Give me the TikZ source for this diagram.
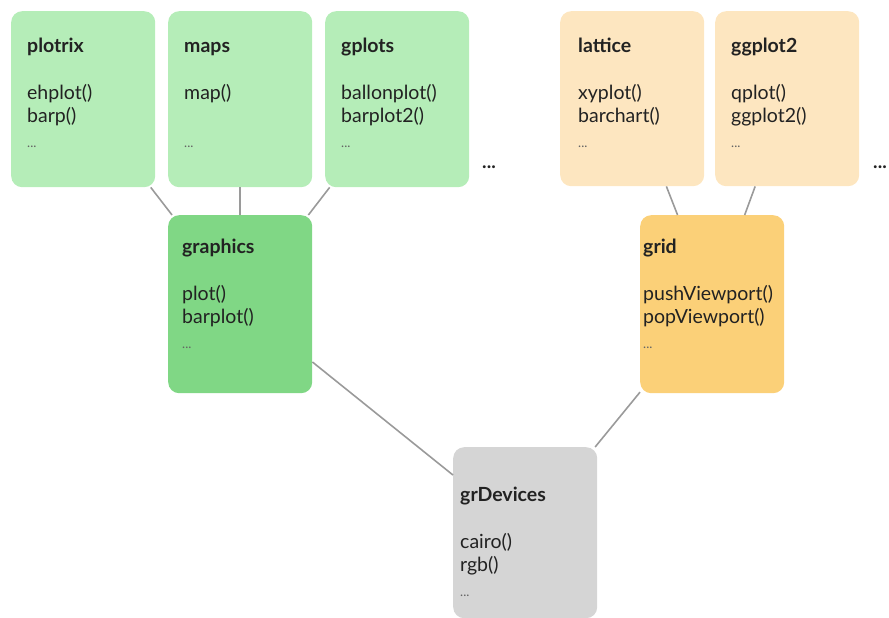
\documentclass[tikz,border=0pt]{standalone}
\usepackage{fontspec}
\setmainfont{Lato}
\usetikzlibrary{positioning,calc}
\definecolor{leaf}{HTML}{B5EDB8}
\definecolor{leafdark}{HTML}{80D785}
\definecolor{sand}{HTML}{FDE6C0}
\definecolor{sanddark}{HTML}{FBD078}
\definecolor{stone}{HTML}{D5D5D5}
\definecolor{link}{HTML}{9A9A9A}
\definecolor{ink}{HTML}{222222}
\newcommand{\pkgdots}{\\[2pt]{\fontsize{13pt}{13pt}\selectfont\textcolor{ink!70}{...}}}
\tikzset{
  pkgbox/.style={rounded corners=11pt,anchor=north west,inner sep=0pt,minimum width=144pt},
  pkgtext/.style={anchor=north west,inner sep=0pt,align=left,text=ink,font=\fontsize{19.5pt}{23pt}\selectfont},
  moredots/.style={inner sep=0pt,text=ink,font=\bfseries\fontsize{19pt}{19pt}\selectfont},
  conn/.style={link,line width=1.6pt}
}

\begin{document}
\begin{tikzpicture}[x=1pt,y=-1pt]
\useasboundingbox (0,0) rectangle (889,618);
\foreach \n/\x/\y/\h/\col/\px/\py/\items in {
  plotrix/11/11/176pt/leaf/16pt/27pt/{ehplot()\\barp()},
  maps/168/11/176pt/leaf/16pt/27pt/{map()\\\phantom{x}},
  gplots/325/11/176pt/leaf/16pt/27pt/{ballonplot()\\barplot2()},
  lattice/560/11/175pt/sand/18pt/27pt/{xyplot()\\barchart()},
  ggplot2/715/11/175pt/sand/16pt/27pt/{qplot()\\ggplot2()},
  graphics/168/215/178pt/leafdark/14pt/24pt/{plot()\\barplot()},
  grid/640/215/178pt/sanddark/3pt/24pt/{pushViewport()\\popViewport()},
  grDevices/453/447/171pt/stone/7pt/40pt/{cairo()\\rgb()}}{
  \node[pkgbox,fill=\col,minimum height=\h] (\n) at (\x,\y) {};
  \node[pkgtext] (\n-text) at ([xshift=\px,yshift=-\py]\n.north west) {\textbf{\vphantom{l}\n}\\[24pt]\items\pkgdots};
}
\foreach \a/\b in {plotrix/graphics,maps/graphics,gplots/graphics,lattice/grid,ggplot2/grid,graphics/grDevices,grid/grDevices}
  \draw[conn] (\a) -- (\b);
\node[moredots] (leaf-more) at (489,167) {...};
\node[moredots] (sand-more) at (880,167) {...};
\end{tikzpicture}
\end{document}
